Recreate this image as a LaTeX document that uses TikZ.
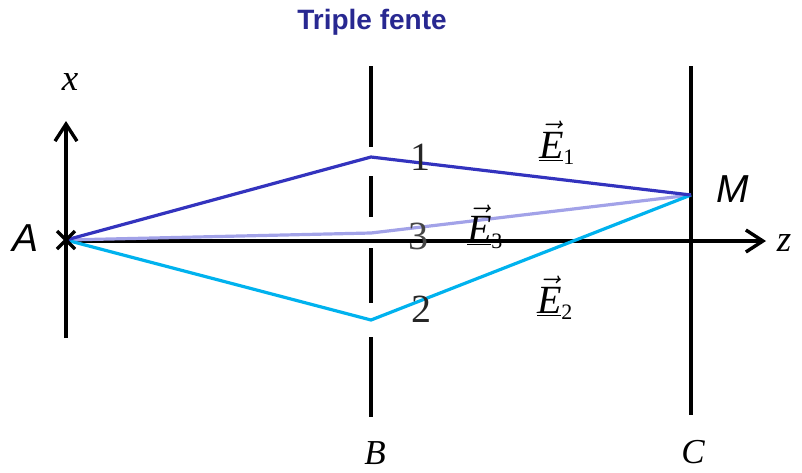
\documentclass[tikz,border=0pt]{standalone}
\usepackage{fix-cm}
\usepackage{fontspec}
\newfontfamily\arialf{Liberation Sans}
\newfontfamily\timesf{Liberation Serif}
\usetikzlibrary{arrows.meta}
\definecolor{rayone}{RGB}{51,51,190}
\definecolor{raythree}{RGB}{162,162,232}
\definecolor{raytwo}{RGB}{0,178,238}
\definecolor{titleblue}{RGB}{40,40,145}
\definecolor{digitgray}{RGB}{70,70,70}
\newcommand{\evector}[1]{$\underline{\vec{\hbox{\timesf\itshape E}}}_{\hbox{\timesf\fontsize{22}{24}\selectfont #1}}$}
\tikzset{
  axis/.style={line width=3.4pt, -{Straight Barb[length=17pt,width=22pt,line width=3.4pt]}},
  screen/.style={line width=3.4pt},
  ray/.style={line width=3.2pt, line join=miter},
  mathlab/.style={inner sep=0pt, font=\timesf\itshape\fontsize{37}{40}\selectfont},
  sanslab/.style={inner sep=0pt, font=\arialf\itshape\fontsize{39}{44}\selectfont},
  digit/.style={inner sep=0pt, font=\timesf\fontsize{40}{44}\selectfont},
  evec/.style={inner sep=0pt, font=\timesf\fontsize{40}{44}\selectfont},
}
\begin{document}
\begin{tikzpicture}[x=1pt,y=-1pt]
\useasboundingbox (0,0) rectangle (802,472);
% points
\coordinate (A) at (66,240);
\coordinate (S1) at (371,157);
\coordinate (S3) at (371,233);
\coordinate (S2) at (371,320);
\coordinate (M) at (691,195);
\coordinate (xbot) at (66,338);
\coordinate (xtop) at (66,121);
\coordinate (zst) at (66,241);
\coordinate (zend) at (766,241);
% title
\node[font=\arialf\bfseries\fontsize{28}{30}\selectfont, text=titleblue] (title) at (372,22) {Triple fente};
% axes
\draw[axis] (xbot) -- (xtop);
\draw[axis] (zst) -- (zend);
% screen B (slits)
\draw[screen] (371,66) -- (371,147);
\draw[screen] (371,176) -- (371,217);
\draw[screen] (371,248) -- (371,303);
\draw[screen] (371,337) -- (371,417);
% screen C
\draw[screen] (691,66) -- (691,415);
% rays
\draw[ray, raythree] (A) -- (S3) -- (M);
\draw[ray, raytwo] (A) -- (S2) -- (M);
\draw[ray, rayone] (A) -- (S1) -- (M);
% cross at A
\draw[line width=3.4pt] (57,231) -- (75,249) (57,249) -- (75,231);
% labels
\node[mathlab] (xl) at (70,82) {x};
\node[mathlab] (zl) at (784,243) {z};
\node[mathlab, font=\timesf\itshape\fontsize{35}{38}\selectfont] (Bl) at (375,453) {B};
\node[mathlab, font=\timesf\itshape\fontsize{35}{38}\selectfont] (Cl) at (693,452) {C};
\node[sanslab] (Al) at (26,238) {A};
\node[sanslab] (Ml) at (733,189) {M};
\node[digit, text=black!85] (d1) at (420,157) {1};
\node[digit, text=digitgray] (d3) at (418,236) {3};
\node[digit, text=black!85] (d2) at (421,309) {2};
\node[evec] (E1) at (557,143) {\evector{1}};
\node[evec] (E3) at (485,227) {\evector{3}};
\node[evec] (E2) at (555,298) {\evector{2}};
\end{tikzpicture}
\end{document}
